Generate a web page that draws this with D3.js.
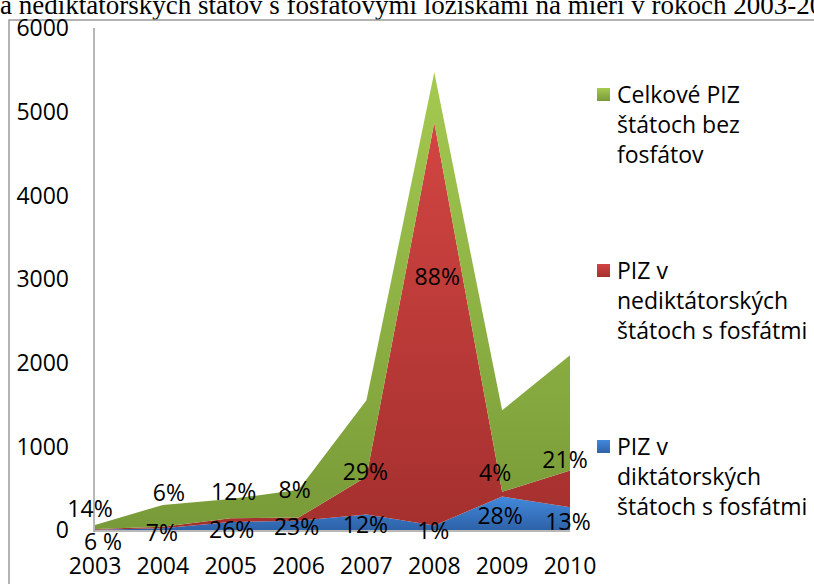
<!DOCTYPE html>
<html>
<head>
<meta charset="utf-8">
<script src="https://cdn.jsdelivr.net/npm/d3@7"></script>
<style>
body { margin: 0; background: #fff; }
text { font-family: "Open Sans", sans-serif; fill: #000; }
</style>
</head>
<body>
<div id="chart"></div>
<script>
// data
var years = ["2003", "2004", "2005", "2006", "2007", "2008", "2009", "2010"];
var dictatorial = [4, 21, 96, 110, 186, 55, 400, 272];
var nonDictatorial = [8, 18, 44, 38, 450, 4815, 57, 439];
var withoutPhosphates = [48, 261, 230, 332, 914, 600, 973, 1379];
var shareNonDict = ["14%", "6%", "12%", "8%", "29%", "88%", "4%", "21%"];
var shareDict = ["6 %", "7%", "26%", "23%", "12%", "1%", "28%", "13%"];
var yTicks = [0, 1000, 2000, 3000, 4000, 5000, 6000];
var seriesNames = [
  ["Celkové PIZ", "štátoch bez", "fosfátov"],
  ["PIZ v", "nediktátorských", "štátoch s fosfátmi"],
  ["PIZ v", "diktátorských", "štátoch s fosfátmi"]
];
var title = "a nediktátorských štátov s fosfátovými ložiskami na mieri v rokoch 2003-2010";

var width = 814, height = 584;
var fontSize = "23px";

var svg = d3.select("#chart")
  .append("svg")
  .attr("width", width)
  .attr("height", height);

svg.append("rect").attr("width", width).attr("height", height).attr("fill", "#fff");

// title, cut off at the top like in the original
svg.append("text")
  .text(title)
  .attr("x", 0)
  .attr("y", 14)
  .style("font-family", "'Liberation Serif', serif")
  .style("font-size", "27px");

// frame of the chart object
svg.append("rect")
  .attr("x", 9)
  .attr("y", 20)
  .attr("width", 830)
  .attr("height", 600)
  .attr("fill", "none")
  .attr("stroke", "#9a9a9a")
  .attr("stroke-width", 1.5);

var defs = svg.append("defs");
function grad(id, top, bottom) {
  var g = defs.append("linearGradient").attr("id", id)
    .attr("x1", 0).attr("y1", 0).attr("x2", 0).attr("y2", 1);
  g.append("stop").attr("offset", "0%").attr("stop-color", top);
  g.append("stop").attr("offset", "100%").attr("stop-color", bottom);
}
grad("gGreen", "#a5ca50", "#789a38");
grad("gRed", "#d24542", "#a4302e");
grad("gBlue", "#4289dc", "#2e62a8");

var x = d3.scalePoint()
  .domain(years)
  .range([95, 570]);

var y = d3.scaleLinear()
  .domain([0, 6000])
  .range([530, 28]);

var table = years.map(function(d, i) {
  return {
    year: d,
    blue: dictatorial[i],
    red: nonDictatorial[i],
    green: withoutPhosphates[i]
  };
});

var stack = d3.stack().keys(["blue", "red", "green"]);
var layers = stack(table);
var fills = {blue: "url(#gBlue)", red: "url(#gRed)", green: "url(#gGreen)"};

var area = d3.area()
  .x(function(d) { return x(d.data.year); })
  .y0(function(d) { return y(d[0]); })
  .y1(function(d) { return y(d[1]); });

svg.append("g")
  .selectAll("path")
  .data(layers)
  .enter()
  .append("path")
  .attr("d", area)
  .attr("fill", function(d) { return fills[d.key]; });

// axes lines
svg.append("line")
  .attr("x1", 94).attr("x2", 94)
  .attr("y1", y(6000)).attr("y2", y(0) + 2)
  .attr("stroke", "#a0a0a0").attr("stroke-width", 1.5);
svg.append("line")
  .attr("x1", 94).attr("x2", x("2010"))
  .attr("y1", y(0) + 1).attr("y2", y(0) + 1)
  .attr("stroke", "#a0a0a0").attr("stroke-width", 1.5);

// y tick labels
svg.append("g")
  .selectAll("text")
  .data(yTicks)
  .enter()
  .append("text")
  .text(function(d) { return d; })
  .attr("x", 69)
  .attr("y", function(d) { return y(d); })
  .attr("dy", "0.36em")
  .attr("text-anchor", "end")
  .style("font-size", fontSize);

// x tick labels
svg.append("g")
  .selectAll("text")
  .data(years)
  .enter()
  .append("text")
  .text(function(d) { return d; })
  .attr("x", function(d) { return x(d); })
  .attr("y", 566)
  .attr("dy", "0.36em")
  .attr("text-anchor", "middle")
  .style("font-size", fontSize);

// data labels (share of the total), placed where they sit in the original
var topAnchor = [[-5, 251], [6, 442], [3, 454], [-4, 478], [-1, 693], [3, 3023], [-7, 681], [-5, 836]];
var bottomAnchor = [[8, -140], [-1, -36], [1, 0], [-2, 36], [-1, 60], [-1, -12], [-2, 167], [-2, 96]];

svg.append("g")
  .selectAll("text")
  .data(shareNonDict)
  .enter()
  .append("text")
  .text(function(d) { return d; })
  .attr("x", function(d, i) { return x(years[i]) + topAnchor[i][0]; })
  .attr("y", function(d, i) { return y(topAnchor[i][1]); })
  .attr("dy", "0.36em")
  .attr("text-anchor", "middle")
  .style("font-size", fontSize);

svg.append("g")
  .selectAll("text")
  .data(shareDict)
  .enter()
  .append("text")
  .text(function(d) { return d; })
  .attr("x", function(d, i) { return x(years[i]) + bottomAnchor[i][0]; })
  .attr("y", function(d, i) { return y(bottomAnchor[i][1]); })
  .attr("dy", "0.36em")
  .attr("text-anchor", "middle")
  .style("font-size", fontSize);

// legend
var legendTop = [95, 271, 447];
var legendFill = ["url(#gGreen)", "url(#gRed)", "url(#gBlue)"];
var legend = svg.append("g")
  .selectAll("g")
  .data(seriesNames)
  .enter()
  .append("g")
  .attr("transform", function(d, i) { return "translate(597," + legendTop[i] + ")"; });

legend.append("rect")
  .attr("x", 0)
  .attr("y", -7)
  .attr("width", 13)
  .attr("height", 13)
  .attr("fill", function(d, i) { return legendFill[i]; });

legend.selectAll("text")
  .data(function(d) { return d; })
  .enter()
  .append("text")
  .text(function(d) { return d; })
  .attr("x", 20)
  .attr("y", function(d, i) { return i * 30; })
  .attr("dy", "0.36em")
  .style("font-size", fontSize);
</script>
</body>
</html>
